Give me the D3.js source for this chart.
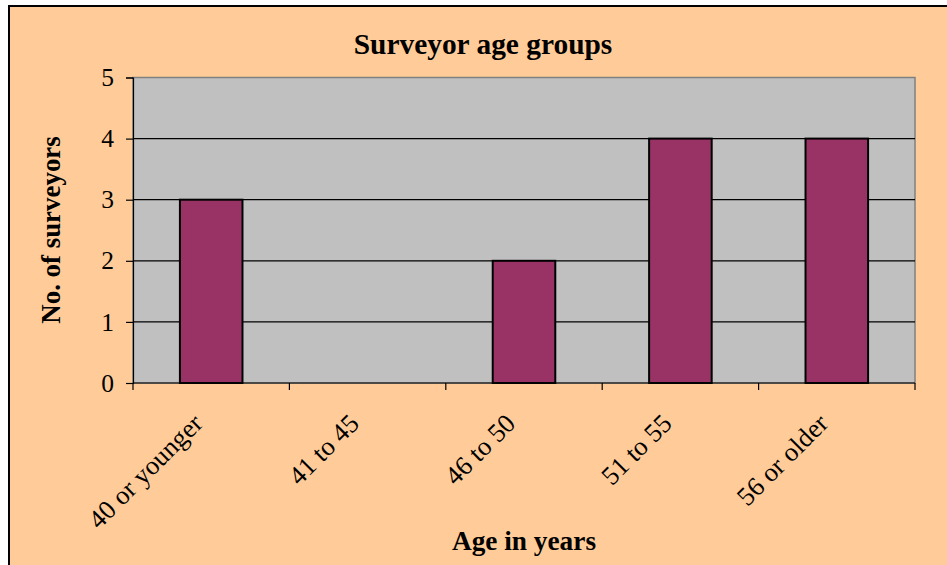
<!DOCTYPE html>
<html><head><meta charset="utf-8">
<script src="https://cdn.jsdelivr.net/npm/d3@7"></script>
<style>body{margin:0;background:#fff}svg{display:block}</style>
</head><body>
<svg id="c" width="947" height="565"></svg>
<script>
const categories = ["40 or younger", "41 to 45", "46 to 50", "51 to 55", "56 or older"];
const values = [3, 0, 2, 4, 4];
const yTicks = [0, 1, 2, 3, 4, 5];
const titleText = "Surveyor age groups";
const xTitle = "Age in years";
const yTitle = "No. of surveyors";

const svg = d3.select("#c");
const font = "'Liberation Serif','Times New Roman',serif";
svg.append("rect").attr("x", 9).attr("y", 6).attr("width", 960).attr("height", 600)
  .attr("fill", "#FFCC99").attr("stroke", "#000").attr("stroke-width", 2);

const L = 133, R = 915, T = 77.5, B = 383;
const x = d3.scaleBand().domain(categories).range([L, R]).paddingInner(0.6).paddingOuter(0.3);
const y = d3.scaleLinear().domain([0, 5]).range([B, T]);

svg.append("rect").attr("x", L).attr("y", T).attr("width", R - L).attr("height", B - T)
  .attr("fill", "#C0C0C0").attr("stroke", "#808080").attr("stroke-width", 1.5);

svg.append("g").selectAll("line").data(yTicks.filter(d => d > 0 && d < 5)).join("line")
  .attr("x1", L).attr("x2", R).attr("y1", d => y(d)).attr("y2", d => y(d))
  .attr("stroke", "#000").attr("stroke-width", 1.2);

svg.append("g").selectAll("rect").data(values).join("rect")
  .attr("x", (d, i) => x(categories[i])).attr("width", x.bandwidth())
  .attr("y", d => y(d)).attr("height", d => B - y(d))
  .attr("fill", "#993366").attr("stroke", "#000").attr("stroke-width", d => d > 0 ? 2 : 0);

// y axis
const yAxis = svg.append("g").attr("transform", `translate(${L},0)`)
  .call(d3.axisLeft(y).tickValues(yTicks).tickSize(7).tickPadding(12).tickFormat(d3.format("d")));
yAxis.select(".domain").attr("stroke", "#000").attr("stroke-width", 1.2);
yAxis.selectAll(".tick line").attr("stroke", "#000").attr("stroke-width", 1.2);
yAxis.selectAll("text").attr("font-family", font).attr("font-size", 25.5).attr("fill", "#000");

// x axis with boundary ticks
const step = x.step();
const bounds = d3.range(categories.length + 1).map(i => L + i * step);
svg.append("line").attr("x1", L).attr("x2", R).attr("y1", B).attr("y2", B)
  .attr("stroke", "#000").attr("stroke-width", 1.2);
svg.append("g").selectAll("line").data(bounds).join("line")
  .attr("x1", d => d).attr("x2", d => d).attr("y1", B).attr("y2", B + 7)
  .attr("stroke", "#000").attr("stroke-width", 1.2);
svg.append("g").selectAll("text").data(categories).join("text")
  .attr("transform", d => `translate(${x(d) + x.bandwidth() / 2 - 7},${B + 42}) rotate(-45)`)
  .attr("text-anchor", "end").attr("font-family", font).attr("font-size", 26.5).text(d => d);

svg.append("text").attr("x", 483).attr("y", 54).attr("text-anchor", "middle")
  .attr("font-family", font).attr("font-weight", "bold").attr("font-size", 29.4).text(titleText);
svg.append("text").attr("x", 524).attr("y", 550).attr("text-anchor", "middle")
  .attr("font-family", font).attr("font-weight", "bold").attr("font-size", 27.3).text(xTitle);
svg.append("text").attr("transform", "translate(60,230) rotate(-90)").attr("text-anchor", "middle")
  .attr("font-family", font).attr("font-weight", "bold").attr("font-size", 26.9).text(yTitle);
</script>
</body></html>
